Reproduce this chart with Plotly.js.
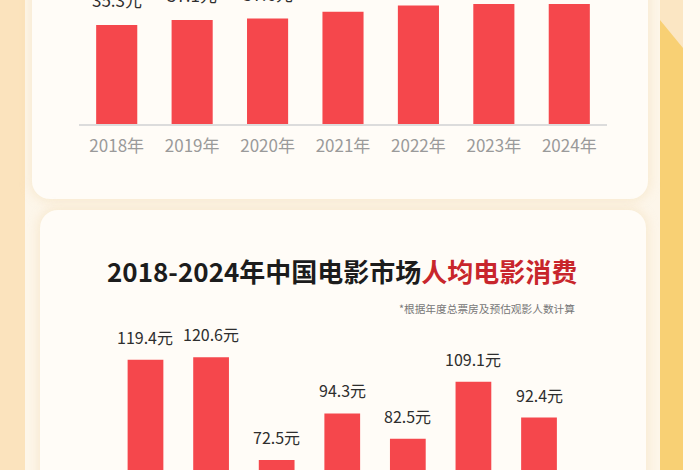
<!DOCTYPE html>
<html>
<head>
<meta charset="utf-8">
<script src="https://cdn.plot.ly/plotly-3.0.1.min.js"></script>
<style>
  html, body {margin: 0; padding: 0; width: 700px; height: 470px; overflow: hidden; background: #fdf6ea;}
  #page {position: relative; width: 700px; height: 470px; overflow: hidden;}
  .strip-left {position: absolute; left: 0; top: 0; width: 25px; height: 470px; background: #fbe3bd;}
  .strip-right-bg {position: absolute; left: 660px; top: 0; width: 23px; height: 470px; background: #fbe6c3;}
  .strip-right {position: absolute; left: 660px; top: 0; width: 23px; height: 470px; background: #f8d074;
    clip-path: polygon(0 20px, 23px 48px, 23px 470px, 0 470px);}
  .edge-right {position: absolute; left: 683px; top: 0; width: 17px; height: 470px; background: #fffaf1;}
  .card {position: absolute; background: #fffcf7; border-radius: 18px;
    box-shadow: 0 0 10px 3px rgba(240, 215, 170, 0.35);}
  #card1 {left: 32px; top: -40px; width: 616px; height: 239px;}
  #card2 {left: 40px; top: 210px; width: 606px; height: 300px;}
  #chart {position: absolute; left: 0; top: 0; width: 700px; height: 470px;}
</style>
</head>
<body>
<div id="page">
  <div class="strip-left"></div>
  <div class="strip-right-bg"></div>
  <div class="strip-right"></div>
  <div class="edge-right"></div>
  <div class="card" id="card1"></div>
  <div class="card" id="card2"></div>
  <div id="chart"></div>
</div>
<script>
const years = ['2018年', '2019年', '2020年', '2021年', '2022年', '2023年', '2024年'];
// upper chart (its labels after 2020 sit above the picture's top edge)
const topValues = [35.3, 37.1, 37.6, 40.0, 42.2, 42.8, 42.8];
// lower chart: per-capita movie spending
const spendValues = [119.4, 120.6, 72.5, 94.3, 82.5, 109.1, 92.4];

const barColor = '#f5474c';
const fontFamily = '"Noto Sans CJK SC", "Noto Sans", sans-serif';

function valueLabels(values, xref, yref, size, shift) {
    return values.map((v, i) => ({
        x: years[i], y: v, xref: xref, yref: yref,
        text: v.toFixed(1) + '元',
        showarrow: false, yanchor: 'bottom', yshift: shift,
        font: {family: fontFamily, size: size, color: '#2e2e2e'}
    }));
}

const traces = [
    {x: years, y: topValues, type: 'bar', xaxis: 'x', yaxis: 'y',
     marker: {color: barColor}, hoverinfo: 'none'},
    {x: years, y: spendValues, type: 'bar', xaxis: 'x2', yaxis: 'y2',
     marker: {color: barColor}, hoverinfo: 'none'}
];

const annotations = valueLabels(topValues, 'x', 'y', 17, 11)
    .concat(valueLabels(spendValues, 'x2', 'y2', 16, 9))
    .concat([
        {x: 342 / 700, y: 1 - 270 / 470, xref: 'paper', yref: 'paper', showarrow: false,
         text: '2018-2024年中国电影市场<span style="color:#c8262c">人均电影消费</span>',
         font: {family: fontFamily, size: 26, color: '#1c1c1c', weight: 'bold'}},
        {x: 577 / 700, y: 1 - 308 / 470, xref: 'paper', yref: 'paper', showarrow: false,
         xanchor: 'right', text: '*根据年度总票房及预估观影人数计算',
         font: {family: fontFamily, size: 10.7, color: '#777'}}
    ]);

const layout = {
    width: 700, height: 470,
    margin: {t: 0, l: 0, r: 0, b: 0},
    paper_bgcolor: 'rgba(0,0,0,0)',
    plot_bgcolor: 'rgba(0,0,0,0)',
    showlegend: false,
    bargap: 0.455,
    font: {family: fontFamily},
    xaxis: {domain: [79 / 700, 607 / 700], anchor: 'y', showgrid: false, zeroline: false,
        showline: true, linecolor: '#dcdcdc', linewidth: 1.5,
        ticks: 'outside', ticklen: 6, tickcolor: 'rgba(0,0,0,0)',
        tickfont: {size: 17, color: '#9a9a9a'}},
    yaxis: {domain: [1 - 124 / 470, 1], anchor: 'x', range: [0, 44.2],
        visible: false, showgrid: false, zeroline: false},
    xaxis2: {domain: [112.7 / 700, 571.8 / 700], anchor: 'y2', showgrid: false, zeroline: false,
        showline: false, showticklabels: false},
    yaxis2: {domain: [0, 130 / 470], anchor: 'x2', range: [67.82, 128.7],
        visible: false, showgrid: false, zeroline: false},
    annotations: annotations
};

Plotly.newPlot('chart', traces, layout, {staticPlot: true, displayModeBar: false});
</script>
</body>
</html>
